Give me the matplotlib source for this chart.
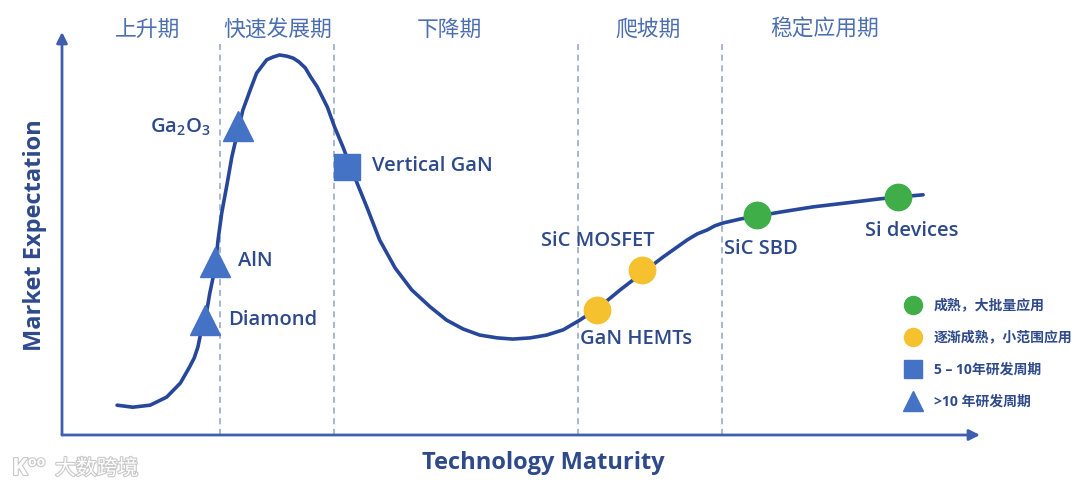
import matplotlib
matplotlib.use("Agg")
import matplotlib.pyplot as plt
import matplotlib.patheffects as pe
from matplotlib.lines import Line2D

plt.rcParams['font.family'] = ['Open Sans', 'Noto Sans CJK SC', 'DejaVu Sans']
plt.rcParams['mathtext.default'] = 'regular'

# --- dane: krzywa oczekiwań (skala 0-100) ---
curve_x = [6.0, 7.7, 9.6, 11.4, 12.9, 13.9, 14.4, 14.8, 15.1, 15.6, 16.1, 16.7,
           17.0, 17.4, 18.0, 18.5, 19.2, 19.7, 20.5, 21.2, 21.8, 22.3, 23.0,
           23.7, 24.5, 25.2, 25.8, 26.5, 27.1, 27.8, 28.9, 29.7, 30.6, 31.7,
           33.2, 34.6, 36.3, 38.1, 40.1, 41.9, 43.7, 45.5, 47.4, 49.1, 51.0,
           52.8, 54.6, 56.4, 58.4, 60.8, 63.3, 65.5, 68.1, 69.2, 70.3, 71.1,
           72.0, 73.9, 75.7, 78.2, 81.8, 85.5, 89.1, 91.3, 93.8]
curve_y = [7.4, 6.9, 7.4, 9.4, 12.9, 16.9, 19.1, 21.8, 25.1, 28.5, 35.2, 41.7,
           48.4, 55.1, 62.5, 69.0, 75.9, 80.6, 85.6, 89.8, 91.6, 93.1, 93.8,
           94.3, 94.0, 93.5, 92.6, 91.1, 88.8, 86.4, 81.4, 76.4, 71.5, 65.0,
           56.6, 48.4, 41.4, 36.0, 31.8, 28.5, 26.3, 24.8, 24.1, 23.8, 24.1,
           24.8, 26.1, 28.5, 31.5, 36.0, 40.4, 44.2, 48.4, 49.9, 50.9, 51.9,
           52.6, 53.6, 54.3, 55.3, 56.6, 57.6, 58.6, 59.1, 59.6]

phase_names = ["上升期", "快速发展期", "下降期", "爬坡期", "稳定应用期"]
phase_centers = [9.3, 23.5, 42.2, 63.8, 83.1]
phase_bounds = [17.2, 29.6, 56.2, 71.9]

tri_names = ["Diamond", "AlN", "Ga$_2$O$_3$"]
tri_x = [15.6, 16.7, 19.2]
tri_y = [28.5, 42.9, 76.7]
sq_names = ["Vertical GaN"]
sq_x = [31.1]
sq_y = [66.5]
yel_names = ["GaN HEMTs", "SiC MOSFET"]
yel_x = [58.3, 63.2]
yel_y = [31.0, 40.9]
grn_names = ["SiC SBD", "Si devices"]
grn_x = [75.7, 91.1]
grn_y = [54.6, 59.1]

legend_labels = ["成熟，大批量应用", "逐渐成熟，小范围应用", "5 – 10年研发周期", ">10 年研发周期"]

# kolory
C_CURVE = "#27479a"
C_BLUE = "#4472c4"
C_GREEN = "#3fae49"
C_YELLOW = "#f6c12f"
C_TEXT = "#2e4a8b"
C_PHASE = "#4d6fb0"
C_AXIS = "#3d5fae"
C_DASH = "#8ea3c7"

fig = plt.figure(figsize=(10.8, 4.91), dpi=100)
ax = fig.add_axes([62 / 1080, 56 / 491, 918 / 1080, 403 / 491])
ax.set_xlim(0, 100)
ax.set_ylim(0, 100)
ax.axis("off")

# osie ze strzałkami
ax.annotate("", xy=(1, 0), xytext=(0, 0), xycoords="axes fraction",
            arrowprops=dict(arrowstyle="-|>", color=C_AXIS, lw=2,
                            mutation_scale=16, shrinkA=0, shrinkB=0))
ax.annotate("", xy=(0, 1), xytext=(0, 0), xycoords="axes fraction",
            arrowprops=dict(arrowstyle="-|>", color=C_AXIS, lw=2,
                            mutation_scale=16, shrinkA=0, shrinkB=0))

# fazy
ax.vlines(phase_bounds, 0, 97, colors=C_DASH, linestyles=(0, (4, 3)), lw=1.1)
for name, cx in zip(phase_names, phase_centers):
    ax.text(cx, 100.5, name, ha="center", va="center", fontsize=15.7,
            color=C_PHASE, clip_on=False)

# krzywa
ax.plot(curve_x, curve_y, color=C_CURVE, lw=2.6, solid_capstyle="round",
        solid_joinstyle="round", zorder=2)

# punkty
ax.plot(tri_x, tri_y, "^", ms=21, color=C_BLUE, zorder=3)
ax.plot(sq_x, sq_y, "s", ms=19, color=C_BLUE, zorder=3)
ax.plot(yel_x, yel_y, "o", ms=19, color=C_YELLOW, zorder=3)
ax.plot(grn_x, grn_y, "o", ms=19, color=C_GREEN, zorder=3)

lab_kw = dict(textcoords="offset pixels", fontsize=14.5, color=C_TEXT,
              fontweight="semibold", va="center")
ax.annotate(tri_names[0], (tri_x[0], tri_y[0]), xytext=(23, 0), ha="left", **lab_kw)
ax.annotate(tri_names[1], (tri_x[1], tri_y[1]), xytext=(23, 1), ha="left", **lab_kw)
ax.annotate(tri_names[2], (tri_x[2], tri_y[2]), xytext=(-28, -1), ha="right", **lab_kw)
ax.annotate(sq_names[0], (sq_x[0], sq_y[0]), xytext=(25, 1), ha="left", **lab_kw)
ax.annotate(yel_names[0], (yel_x[0], yel_y[0]), xytext=(-17, -29), ha="left", **lab_kw)
ax.annotate(yel_names[1], (yel_x[1], yel_y[1]), xytext=(-44, 29), ha="center", **lab_kw)
ax.annotate(grn_names[0], (grn_x[0], grn_y[0]), xytext=(-33, -34), ha="left", **lab_kw)
ax.annotate(grn_names[1], (grn_x[1], grn_y[1]), xytext=(-33, -34), ha="left", **lab_kw)

# tytuły osi
fig.text(35 / 1080, 1 - 235 / 491, "Market Expectation", rotation=90, ha="center",
         va="center", fontsize=17, fontweight="bold", color=C_TEXT)
fig.text(543 / 1080, 1 - 463 / 491, "Technology Maturity", ha="center",
         va="center", fontsize=17, fontweight="bold", color=C_TEXT)

# legenda
handles = [
    Line2D([], [], ls="", marker="o", ms=13, color=C_GREEN),
    Line2D([], [], ls="", marker="o", ms=13, color=C_YELLOW),
    Line2D([], [], ls="", marker="s", ms=13, color=C_BLUE),
    Line2D([], [], ls="", marker="^", ms=14, color=C_BLUE),
]
fig.legend(handles, legend_labels, loc="upper left",
           bbox_to_anchor=(899 / 1080, 1 - 293 / 491), frameon=False,
           prop=dict(size=10, weight="bold"), labelcolor=C_TEXT,
           handlelength=1.2, handletextpad=0.9, labelspacing=1.3,
           borderaxespad=0)

# znak wodny
wm = [pe.withStroke(linewidth=1.6, foreground="#c8c8c8")]
fig.text(12 / 1080, 1 - 469 / 491, "K", ha="left", va="center", fontsize=17,
         color="white", fontweight="bold", path_effects=wm)
fig.text(28 / 1080, 1 - 462 / 491, "oo", ha="left", va="center", fontsize=10,
         color="white", fontweight="bold", path_effects=wm)
fig.text(55 / 1080, 1 - 469 / 491, "大数跨境", ha="left", va="center",
         fontsize=15, color="white", path_effects=wm)

fig.savefig("out.png", dpi=100)
